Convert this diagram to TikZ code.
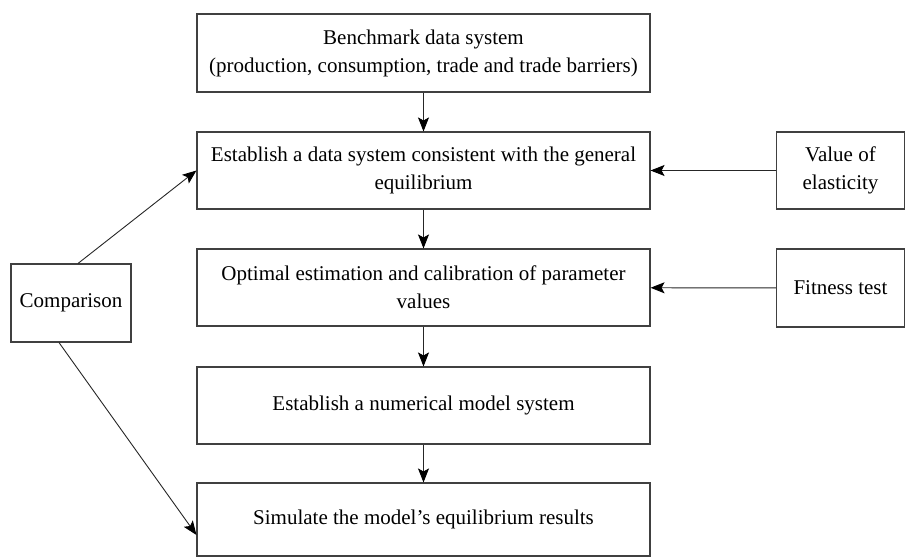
\documentclass[tikz,border=0pt]{standalone}
\usepackage{fontspec}
\setmainfont{Liberation Serif}
\usetikzlibrary{arrows.meta,calc}
\begin{document}
\begin{tikzpicture}[x=1pt,y=-1pt,
  box/.style={draw=black!75,line width=1.1pt,align=center,inner sep=0pt,
    font=\fontsize{21}{28}\selectfont},
  big/.style={box,minimum width=453pt,minimum height=77pt},
  side/.style={box,minimum width=128pt,minimum height=77pt},
  arr/.style={draw=black!85,line width=0.9pt,-{Stealth[length=14pt,width=11pt,inset=3pt,black]}}]
\useasboundingbox (0,0) rectangle (905,557);
\node[big,minimum height=78pt] (bench) at (423.5,53) {Benchmark data system\\(production, consumption, trade and trade barriers)};
\node[big] (est) at (423.5,170.5) {Establish a data system consistent with the general\\equilibrium};
\node[big] (opt) at (423.5,287.5) {Optimal estimation and calibration of parameter\\values};
\node[big] (num) at (423.5,405.5) {Establish a numerical model system};
\node[big,minimum height=73pt] (sim) at (423.5,519.5) {Simulate the model's equilibrium results};
\node[side] (val) at (840.5,170.5) {Value of\\elasticity};
\node[side,minimum height=78pt] (fit) at (840.5,288) {Fitness test};
\node[box,minimum width=120pt,minimum height=78pt] (comp) at (71,303) {Comparison};
\draw[arr] (bench) -- (est);
\draw[arr] (est) -- (opt);
\draw[arr] (opt) -- (num);
\draw[arr] (num) -- (sim);
\draw[arr] (val) -- (est);
\draw[arr] (fit) -- (opt);
\draw[arr] ($(comp.north)+(7,0)$) -- (est.west);
\draw[arr] ($(comp.south)+(-12,0)$) -- ($(sim.west)+(0,15.5)$);
\end{tikzpicture}
\end{document}
